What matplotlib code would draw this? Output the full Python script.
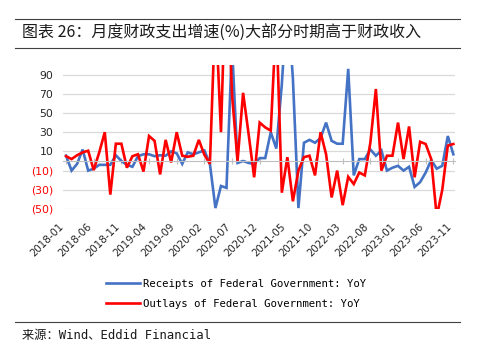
import matplotlib
matplotlib.use("Agg")
import matplotlib.pyplot as plt
from matplotlib.lines import Line2D
import numpy as np
import pandas as pd

# monthly YoY growth (%), 2018-01 .. 2023-11
months = pd.period_range("2018-01", "2023-11", freq="M").strftime("%Y-%m").tolist()

receipts = [5.5, -10, -3, 12, -10, -8, -4, -4, -4, 6,
            0, -4, -6, 5, 7, 7, 5, 6, 5.5, 10,
            8, -3, 9, 7, 9, 11, -3, -49, -26, -28,
            120, -2, 0, -2, -3, 3, 3, 30, 13, 80,
            170, 86, -49, 19, 22, 19, 24, 40, 21, 18,
            18, 96, -15, 2, 2, 12, 5.5, 11, -10, -7,
            -5, -10, -6, -27, -22, -12, 1, -8, -5, 26,
            7]
outlays = [5, 2, 6, 9, 10.7, -9.5, 9, 30, -35, 18,
           18, -7, 5, 7, -11, 26, 21, -14, 22, -1.5,
           30, 5.5, 4.4, 5.5, 22, 6.5, -3, 160, 30, 220,
           69, 0, 71, 28, -17, 40, 35, 31.6, 150, -33,
           4, -42, -10, 4, 5.5, -15, 30, 7, -38, -10,
           -46, -16.5, -24, -12, -15, 19, 75, -10, 5.5, 5.5,
           40, 2, 36, -17, 20, 17.7, 2, -58, -30, 16,
           17.7]

yticks = [90, 70, 50, 30, 10, -10, -30, -50]
label_every = 5

title = "图表 26：月度财政支出增速(%)大部分时期高于财政收入"
source = "来源：Wind、Eddid Financial"
names = ["Receipts of Federal Government: YoY",
         "Outlays of Federal Government: YoY"]

cjk = ["Noto Sans CJK SC", "DejaVu Sans"]
mono = ["DejaVu Sans Mono", "Noto Sans CJK SC"]

fig = plt.figure(figsize=(4.78, 3.6), dpi=100)
ax = fig.add_axes([63/478, 1 - 209/360, 392/478, 144/360])

x = np.arange(len(months))
ax.plot(x, receipts, color="#4472C4", lw=1.9, label=names[0], solid_joinstyle="miter")
ax.plot(x, outlays, color="#FF0000", lw=1.9, label=names[1], solid_joinstyle="miter")

ax.set_xlim(-0.55, len(months) - 1 + 0.3)
ax.set_ylim(-50, 100)

ax.set_yticks(yticks)
ax.set_yticklabels([str(v) if v > 0 else "(%d)" % -v for v in yticks])
for lab, v in zip(ax.get_yticklabels(), yticks):
    lab.set_color("#262626" if v > 0 else "#FF0000")
ax.tick_params(axis="y", length=0, pad=7, labelsize=7.8)
ax.grid(axis="y", color="#D9D9D9", lw=0.9)
ax.set_axisbelow(True)

for s in ["top", "right", "left"]:
    ax.spines[s].set_visible(False)
ax.spines["bottom"].set_position(("data", 0))
ax.spines["bottom"].set_color("#BFBFBF")
ticks = x[::label_every]
ax.set_xticks(ticks)
ax.tick_params(axis="x", direction="inout", length=5, color="#BFBFBF",
               labelbottom=False)

sec = ax.secondary_xaxis(0)
sec.set_xticks(ticks)
sec.set_xticklabels([months[i] for i in ticks], rotation=45, ha="right",
                    fontsize=7.4, color="#262626")
sec.tick_params(length=0, pad=9)
sec.spines["bottom"].set_visible(False)

fig.legend(loc="upper left", bbox_to_anchor=(106/478, 1 - 279/360),
           frameon=False, prop={"family": "DejaVu Sans Mono", "size": 7.7},
           handlelength=3.2, handletextpad=0.25, labelspacing=0.95,
           borderpad=0, borderaxespad=0)

fig.text(22/478, 1 - 33/360, title, family=cjk, fontsize=11.5,
         va="center", ha="left", color="#1a1a1a")
fig.text(22/478, 1 - 335/360, source, family=mono, fontsize=8.8,
         va="center", ha="left", color="#1a1a1a")
for yy in [19, 48, 322]:
    fig.add_artist(Line2D([15/478, 460/478], [1 - yy/360] * 2,
                          color="#404040", lw=0.8))

fig.savefig("out.png", dpi=100)
